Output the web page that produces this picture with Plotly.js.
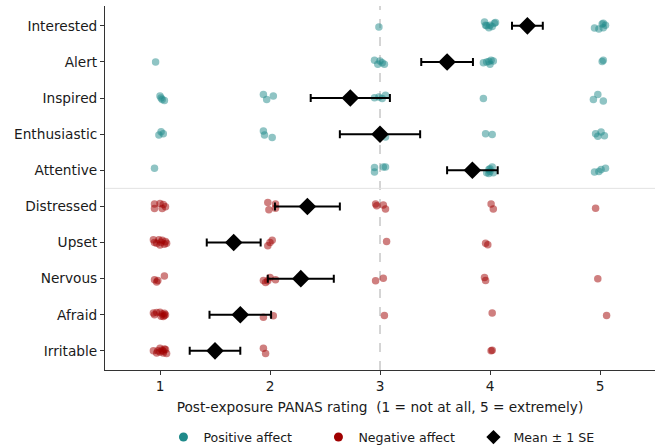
<!DOCTYPE html>
<html>
<head>
<meta charset="utf-8">
<script src="https://cdn.plot.ly/plotly-3.0.1.min.js"></script>
<style>html,body{margin:0;padding:0;background:#fff;}#chart{width:656px;height:446px;}</style>
</head>
<body>
<div id="chart"></div>
<script>
// Categories, top to bottom
const positiveItems = ["Interested", "Alert", "Inspired", "Enthusiastic", "Attentive"];
const negativeItems = ["Distressed", "Upset", "Nervous", "Afraid", "Irritable"];
const xTicks = [1, 2, 3, 4, 5];
const xTickLabels = ["1", "2", "3", "4", "5"];

// Individual ratings as plotted (jittered x) and the small vertical jitter of each point
const interestedX  = [2.99, 3.95, 3.97, 3.99, 4.00, 4.02, 4.04, 4.05, 3.96, 4.95, 4.99, 5.02, 5.03, 5.05, 5.03];
const interestedDY = [-0.03, 0.11, 0.00, -0.05, 0.02, -0.02, 0.07, 0.09, 0.02, -0.06, -0.09, 0.05, 0.07, 0.02, -0.05];
const alertX  = [0.96, 2.95, 2.98, 3.00, 3.02, 3.04, 3.94, 3.97, 4.00, 4.01, 4.03, 3.99, 5.02, 5.03];
const alertDY = [0.00, 0.05, -0.06, 0.03, -0.02, -0.06, -0.02, 0.00, -0.06, 0.05, 0.03, 0.01, 0.01, 0.05];
const inspiredX  = [1.00, 1.01, 1.02, 1.04, 1.94, 1.97, 2.03, 2.95, 2.99, 3.02, 3.05, 3.94, 4.94, 4.98, 5.03];
const inspiredDY = [0.06, 0.00, -0.04, -0.07, 0.10, -0.04, 0.06, 0.01, 0.03, -0.01, 0.08, -0.01, -0.04, 0.10, -0.08];
const enthusiasticX  = [0.99, 1.01, 1.03, 1.94, 1.95, 2.02, 3.00, 3.05, 3.96, 4.02, 4.96, 4.98, 5.01, 5.04];
const enthusiasticDY = [-0.02, 0.07, 0.01, 0.09, -0.02, -0.09, 0.00, -0.08, 0.01, -0.01, 0.01, -0.06, 0.06, -0.04];
const attentiveX  = [0.95, 2.95, 2.95, 3.03, 3.05, 3.97, 3.99, 4.00, 4.02, 4.03, 4.00, 3.99, 4.95, 4.99, 5.01, 5.05];
const attentiveDY = [0.06, 0.08, -0.05, 0.09, 0.09, -0.07, 0.02, -0.03, 0.09, -0.07, 0.04, -0.09, -0.05, -0.03, 0.02, 0.06];

const distressedX  = [0.95, 0.95, 1.00, 1.02, 1.03, 1.05, 1.98, 1.99, 2.05, 2.05, 2.96, 2.97, 3.03, 3.05, 4.01, 4.03, 4.96];
const distressedDY = [0.07, -0.06, 0.08, -0.06, 0.05, -0.01, 0.11, -0.09, 0.07, -0.05, 0.07, 0.02, 0.04, -0.07, 0.07, -0.07, -0.05];
const upsetX  = [0.94, 0.95, 0.99, 1.00, 1.02, 1.05, 1.06, 0.97, 1.01, 1.04, 1.98, 2.00, 2.02, 3.06, 3.96, 3.98];
const upsetDY = [0.08, 0.00, 0.08, -0.07, 0.06, 0.03, -0.02, -0.02, 0.01, -0.05, -0.09, 0.00, 0.06, 0.03, -0.02, -0.06];
const nervousX  = [0.95, 0.97, 0.98, 1.04, 1.94, 1.96, 1.98, 2.00, 2.05, 2.96, 3.03, 3.95, 3.96, 4.98];
const nervousDY = [-0.03, -0.09, -0.05, 0.07, -0.05, -0.11, -0.06, 0.03, -0.03, -0.06, 0.01, 0.03, -0.05, 0.00];
const afraidX  = [0.94, 0.95, 1.00, 1.02, 1.04, 1.05, 0.97, 1.03, 1.01, 1.04, 1.94, 2.03, 3.04, 4.02, 5.06];
const afraidDY = [0.05, 0.00, 0.07, 0.02, -0.02, 0.00, 0.06, -0.05, -0.04, 0.04, -0.07, -0.03, -0.02, 0.05, -0.02];
const irritableX  = [0.94, 0.97, 1.00, 1.02, 1.03, 1.05, 1.06, 0.98, 1.03, 1.00, 1.04, 1.94, 1.96, 4.02, 4.01];
const irritableDY = [0.00, -0.06, 0.07, 0.02, -0.01, 0.04, -0.07, 0.00, -0.06, -0.03, 0.05, 0.07, -0.07, 0.02, 0.00];

// Means and standard errors, in category order (top to bottom)
const itemMeans = [4.34, 3.61, 2.73, 3.00, 3.84, 2.34, 1.67, 2.28, 1.73, 1.50];
const itemSE    = [0.14, 0.235, 0.36, 0.365, 0.23, 0.295, 0.245, 0.30, 0.28, 0.23];

const allItems = positiveItems.concat(negativeItems);
const nItems = allItems.length;
const posRows = [[interestedX, interestedDY], [alertX, alertDY], [inspiredX, inspiredDY], [enthusiasticX, enthusiasticDY], [attentiveX, attentiveDY]];
const negRows = [[distressedX, distressedDY], [upsetX, upsetDY], [nervousX, nervousDY], [afraidX, afraidDY], [irritableX, irritableDY]];

function rowPos(i) { return nItems - 1 - i; }
function buildPoints(rows, offset) {
  const xs = [], ys = [];
  rows.forEach((r, k) => {
    const base = rowPos(k + offset);
    r[0].forEach((v, j) => { xs.push(v); ys.push(base + r[1][j]); });
  });
  return {xs, ys};
}
const pos = buildPoints(posRows, 0);
const neg = buildPoints(negRows, positiveItems.length);

const teal = '#1f8a8a';
const red = '#a00000';

const traces = [
  {x: pos.xs, y: pos.ys, type: 'scatter', mode: 'markers', showlegend: false, hoverinfo: 'skip',
   marker: {color: teal, size: 7.5, opacity: 0.5, line: {width: 0}}},
  {x: neg.xs, y: neg.ys, type: 'scatter', mode: 'markers', showlegend: false, hoverinfo: 'skip',
   marker: {color: red, size: 7.5, opacity: 0.5, line: {width: 0}}},
  {x: itemMeans, y: allItems.map((_, i) => rowPos(i)), type: 'scatter', mode: 'markers', showlegend: false,
   marker: {symbol: 'diamond', color: '#000', size: 13.5},
   error_x: {type: 'data', array: itemSE, color: '#000', thickness: 2, width: 4}},
  {x: [null], y: [null], type: 'scatter', mode: 'markers', name: 'Positive affect',
   marker: {color: teal, size: 9}},
  {x: [null], y: [null], type: 'scatter', mode: 'markers', name: 'Negative affect',
   marker: {color: red, size: 9}},
  {x: [null], y: [null], type: 'scatter', mode: 'markers', name: 'Mean \u00b1 1 SE',
   marker: {symbol: 'diamond', color: '#000', size: 11}}
];

const layout = {
  width: 656, height: 446,
  margin: {l: 105, r: 1, t: 6, b: 76, autoexpand: false},
  paper_bgcolor: '#fff', plot_bgcolor: '#fff',
  font: {family: 'DejaVu Sans, sans-serif', size: 13.7, color: '#1a1a1a'},
  xaxis: {
    range: [0.5, 5.5], tickvals: xTicks, ticktext: xTickLabels,
    ticks: 'outside', ticklen: 4, tickcolor: '#333', showline: true, linecolor: '#333', linewidth: 1,
    showgrid: false, zeroline: false,
    title: {text: 'Post-exposure PANAS rating \u00a0(1 = not at all, 5 = extremely)', font: {size: 13.7}, standoff: 8}
  },
  yaxis: {
    range: [-0.53, 9.55], tickvals: allItems.map((_, i) => rowPos(i)), ticktext: allItems,
    ticks: 'outside', ticklen: 4, tickcolor: '#333', showline: true, linecolor: '#333', linewidth: 1,
    showgrid: false, zeroline: false
  },
  shapes: [
    {type: 'line', xref: 'x', yref: 'paper', x0: 3, x1: 3, y0: 0, y1: 1, layer: 'below',
     line: {color: '#aaaaaa', width: 1, dash: 'dash'}},
    {type: 'line', xref: 'paper', yref: 'y', x0: 0, x1: 1, y0: 4.5, y1: 4.5, layer: 'below',
     line: {color: '#e3e3e3', width: 1}}
  ],
  legend: {orientation: 'h', x: 0.529, xanchor: 'center', y: -0.185, yanchor: 'middle',
           font: {size: 12.6}, bgcolor: 'rgba(0,0,0,0)', entrywidth: 110, entrywidthmode: 'pixels'},
  showlegend: true
};

Plotly.newPlot('chart', traces, layout, {displayModeBar: false, staticPlot: true});
</script>
</body>
</html>
